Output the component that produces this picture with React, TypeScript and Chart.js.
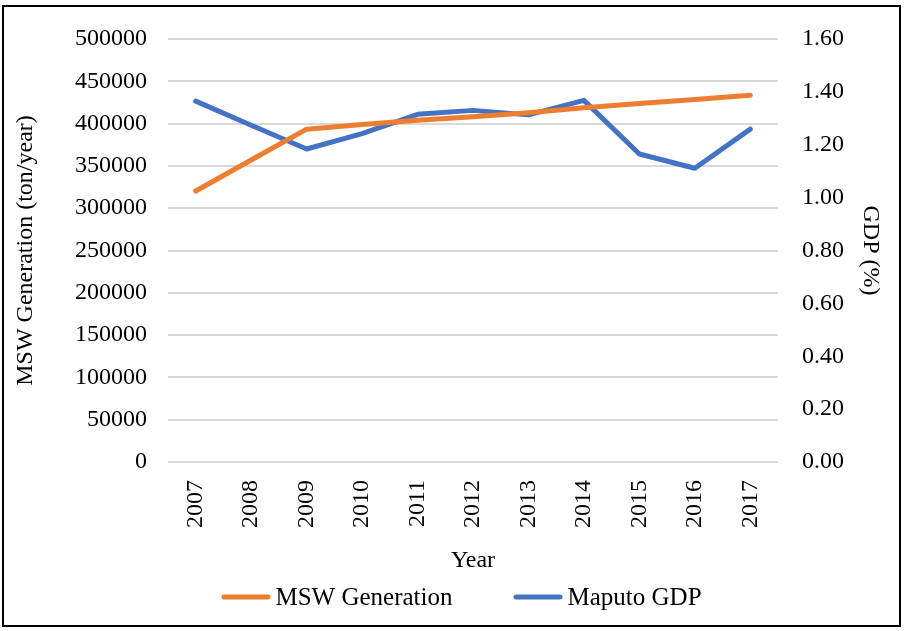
import React, { useEffect, useRef } from "react";
import { Chart, registerables } from "chart.js";

Chart.register(...registerables);

const years = ["2007", "2008", "2009", "2010", "2011", "2012", "2013", "2014", "2015", "2016", "2017"];
const mswGeneration = [320300, 357000, 393400, 399000, 404000, 408200, 412900, 418700, 423800, 428500, 433600];
const maputoGdp = [1.365, 1.274, 1.184, 1.242, 1.315, 1.33, 1.313, 1.368, 1.165, 1.111, 1.259];
const leftTicksMax = 500000;
const leftTicksStep = 50000;
const rightTicksMax = 1.6;
const rightTicksStep = 0.2;

const FONT = "'Liberation Serif', 'Times New Roman', serif";
const FONT_SIZE = 24;
const LEGEND_FONT_SIZE = 25;

const bottomLegend = {
  id: "bottomLegend",
  afterDraw(chart: any) {
    const ctx = chart.ctx as CanvasRenderingContext2D;
    ctx.save();
    ctx.font = `${LEGEND_FONT_SIZE}px ${FONT}`;
    ctx.textBaseline = "middle";
    ctx.textAlign = "left";
    const boxW = 49;
    const boxH = 5;
    const gap = 5;
    const itemGap = 61;
    const items = chart.data.datasets.map((ds: any) => ({
      text: ds.label as string,
      color: ds.borderColor as string,
      w: ctx.measureText(ds.label).width,
    }));
    const total =
      items.reduce((s: number, it: any) => s + boxW + gap + it.w, 0) + itemGap * (items.length - 1);
    let x = chart.width / 2 + 10 - total / 2;
    const y = chart.height - 28;
    for (const it of items) {
      ctx.fillStyle = it.color;
      ctx.beginPath();
      const r = boxH / 2;
      ctx.moveTo(x + r, y - r);
      ctx.lineTo(x + boxW - r, y - r);
      ctx.arc(x + boxW - r, y, r, -Math.PI / 2, Math.PI / 2);
      ctx.lineTo(x + r, y + r);
      ctx.arc(x + r, y, r, Math.PI / 2, (3 * Math.PI) / 2);
      ctx.fill();
      ctx.fillStyle = "#000";
      ctx.fillText(it.text, x + boxW + gap, y + 1);
      x += boxW + gap + it.w + itemGap;
    }
    ctx.restore();
  },
};

const fixV = (w: number) => (scale: any) => {
  scale.width = w;
  scale.paddingTop = 0;
  scale.paddingBottom = 0;
};

export default function App() {
  const ref = useRef<HTMLCanvasElement | null>(null);
  useEffect(() => {
    const ctx = ref.current!;
    const chart = new Chart(ctx, {
      type: "line",
      data: {
        labels: years,
        datasets: [
          {
            label: "MSW Generation",
            data: mswGeneration,
            borderColor: "#ED7D31",
            backgroundColor: "#ED7D31",
            borderWidth: 5,
            pointRadius: 0,
            tension: 0,
            borderCapStyle: "round",
            borderJoinStyle: "round",
            yAxisID: "y",
          },
          {
            label: "Maputo GDP",
            data: maputoGdp,
            borderColor: "#4472C4",
            backgroundColor: "#4472C4",
            borderWidth: 5,
            pointRadius: 0,
            tension: 0,
            borderCapStyle: "round",
            borderJoinStyle: "round",
            yAxisID: "y1",
          },
        ],
      },
      plugins: [bottomLegend],
      options: {
        responsive: false,
        animation: false,
        layout: { padding: { top: 32, right: 4, left: 3, bottom: 46 } },
        plugins: {
          tooltip: { enabled: false },
          legend: { display: false },
        },
        scales: {
          x: {
            offset: true,
            grid: { display: false, drawTicks: false },
            border: { display: false },
            afterFit: (scale: any) => {
              scale.height = 117;
              scale.paddingLeft = 0;
              scale.paddingRight = 0;
            },
            ticks: {
              color: "#000",
              font: { family: FONT, size: FONT_SIZE },
              minRotation: 90,
              maxRotation: 90,
              padding: 18,
            },
            title: {
              display: true,
              text: "Year",
              color: "#000",
              font: { family: FONT, size: FONT_SIZE },
              padding: { top: 17, bottom: 4 },
            },
          },
          y: {
            position: "left",
            min: 0,
            max: leftTicksMax,
            grid: { color: "#d9d9d9", lineWidth: 2, drawTicks: false },
            border: { display: false },
            afterFit: fixV(161),
            ticks: {
              stepSize: leftTicksStep,
              color: "#000",
              font: { family: FONT, size: FONT_SIZE },
              padding: 21,
              callback: (v: any) => String(v),
            },
            title: {
              display: true,
              text: "MSW Generation (ton/year)",
              color: "#000",
              font: { family: FONT, size: FONT_SIZE },
              padding: { top: 4, bottom: 10 },
            },
          },
          y1: {
            position: "right",
            min: 0,
            max: rightTicksMax,
            grid: { display: false, drawTicks: false },
            border: { display: false },
            afterFit: fixV(117),
            ticks: {
              stepSize: rightTicksStep,
              color: "#000",
              font: { family: FONT, size: FONT_SIZE },
              padding: 24,
              callback: (v: any) => Number(v).toFixed(2),
            },
            title: {
              display: true,
              text: "GDP (%)",
              color: "#000",
              font: { family: FONT, size: FONT_SIZE },
              padding: { top: 10.6, bottom: 4 },
            },
          },
        },
      },
    });
    return () => chart.destroy();
  }, []);
  return (
    <div style={{ position: "fixed", left: 0, top: 0, width: 905, height: 631, background: "#fff" }}>
      <div
        style={{
          position: "absolute",
          left: 2,
          top: 5,
          width: 899,
          height: 622,
          border: "2px solid #000",
          boxSizing: "border-box",
          overflow: "hidden",
        }}
      >
        <canvas ref={ref} width={895} height={618} style={{ display: "block" }} />
      </div>
    </div>
  );
}
